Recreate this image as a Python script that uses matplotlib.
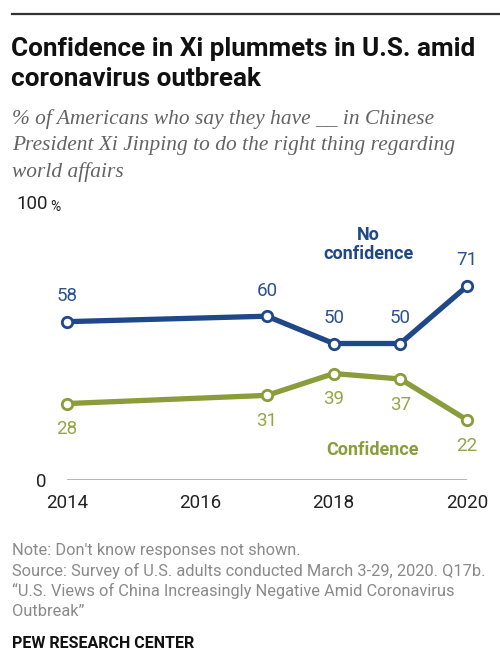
import matplotlib
matplotlib.use("Agg")
import matplotlib.pyplot as plt
from matplotlib.lines import Line2D

years = [2014, 2017, 2018, 2019, 2020]
no_confidence = [58, 60, 50, 50, 71]
confidence = [28, 31, 39, 37, 22]
xticks = [2014, 2016, 2018, 2020]

NAVY = "#1e4887"
GREEN = "#8b9c3b"
NAVY_TXT = "#2c5190"
GREEN_TXT = "#95a547"

W, H = 500, 672
fig = plt.figure(figsize=(W / 100, H / 100), dpi=100)
fig.patch.set_facecolor("white")


def fx(px):
    return px / W


def fy(py):
    return 1 - py / H


# top rule
fig.add_artist(Line2D([fx(12), 1], [fy(14), fy(14)], color="#333333", lw=1.6))

for i, line in enumerate(["Confidence in Xi plummets in U.S. amid", "coronavirus outbreak"]):
    fig.text(fx(11), fy(49 + 30 * i), line, fontsize=18.8, fontweight="bold",
             family="Roboto", va="center", color="#111111")

sub = ["% of Americans who say they have __ in Chinese",
       "President Xi Jinping to do the right thing regarding",
       "world affairs"]
for i, line in enumerate(sub):
    fig.text(fx(12), fy(119 + 26.5 * i), line, fontsize=15.4, style="italic",
             family="Liberation Serif", va="center", color="#636363")

ax = fig.add_axes([fx(67), fy(480), fx(467) - fx(67), fy(207) - fy(480)])
ax.set_xlim(2014, 2020)
ax.set_ylim(0, 100)
for s in ax.spines.values():
    s.set_visible(False)
ax.tick_params(length=0)
ax.set_xticks(xticks)
ax.set_xticklabels([str(t) for t in xticks], fontsize=13.5, family="Roboto", color="#222222")
ax.tick_params(axis="x", pad=10)
ax.set_yticks([0, 100])
ax.set_yticklabels(["0", ""], fontsize=13.5, family="Roboto", color="#222222")
ax.tick_params(axis="y", pad=15)
ax.axhline(0, color="#aaaaaa", lw=1.2)

fig.text(fx(16), fy(204), "100", fontsize=13.5, family="Roboto", va="center", color="#222222")
fig.text(fx(50), fy(207), "%", fontsize=10, family="Roboto", va="center", color="#222222")

for vals, col, tcol, off in [(no_confidence, NAVY, NAVY_TXT, 1),
                             (confidence, GREEN, GREEN_TXT, -1)]:
    ax.plot(years, vals, color=col, lw=3.8, marker="o", ms=7.5, mfc="white",
            mec=col, mew=2, clip_on=False, solid_capstyle="round", zorder=3)
    for x, v in zip(years, vals):
        ax.annotate(str(v), (x, v), xytext=(0, 18.5 * off), textcoords="offset points",
                    ha="center", va="center", fontsize=13.5, family="Roboto", color=tcol)

ax.text(2018.52, 86.3, "No\nconfidence", ha="center", va="center", fontsize=13,
        fontweight="bold", family="Roboto", color=NAVY, linespacing=1.05)
ax.text(2018.58, 11, "Confidence", ha="center", va="center", fontsize=13,
        fontweight="bold", family="Roboto", color=GREEN)

notes = ["Note: Don't know responses not shown.",
         "Source: Survey of U.S. adults conducted March 3-29, 2020. Q17b.",
         "\u201cU.S. Views of China Increasingly Negative Amid Coronavirus",
         "Outbreak\u201d"]
for i, line in enumerate(notes):
    fig.text(fx(12), fy(551 + 20 * i), line, fontsize=11.8, family="Roboto",
             va="center", color="#8a8a8a")

fig.text(fx(12), fy(643), "PEW RESEARCH CENTER", fontsize=11.5, family="Roboto",
         fontweight="bold", va="center", color="#111111")

fig.savefig("out.png", dpi=100, facecolor="white")
